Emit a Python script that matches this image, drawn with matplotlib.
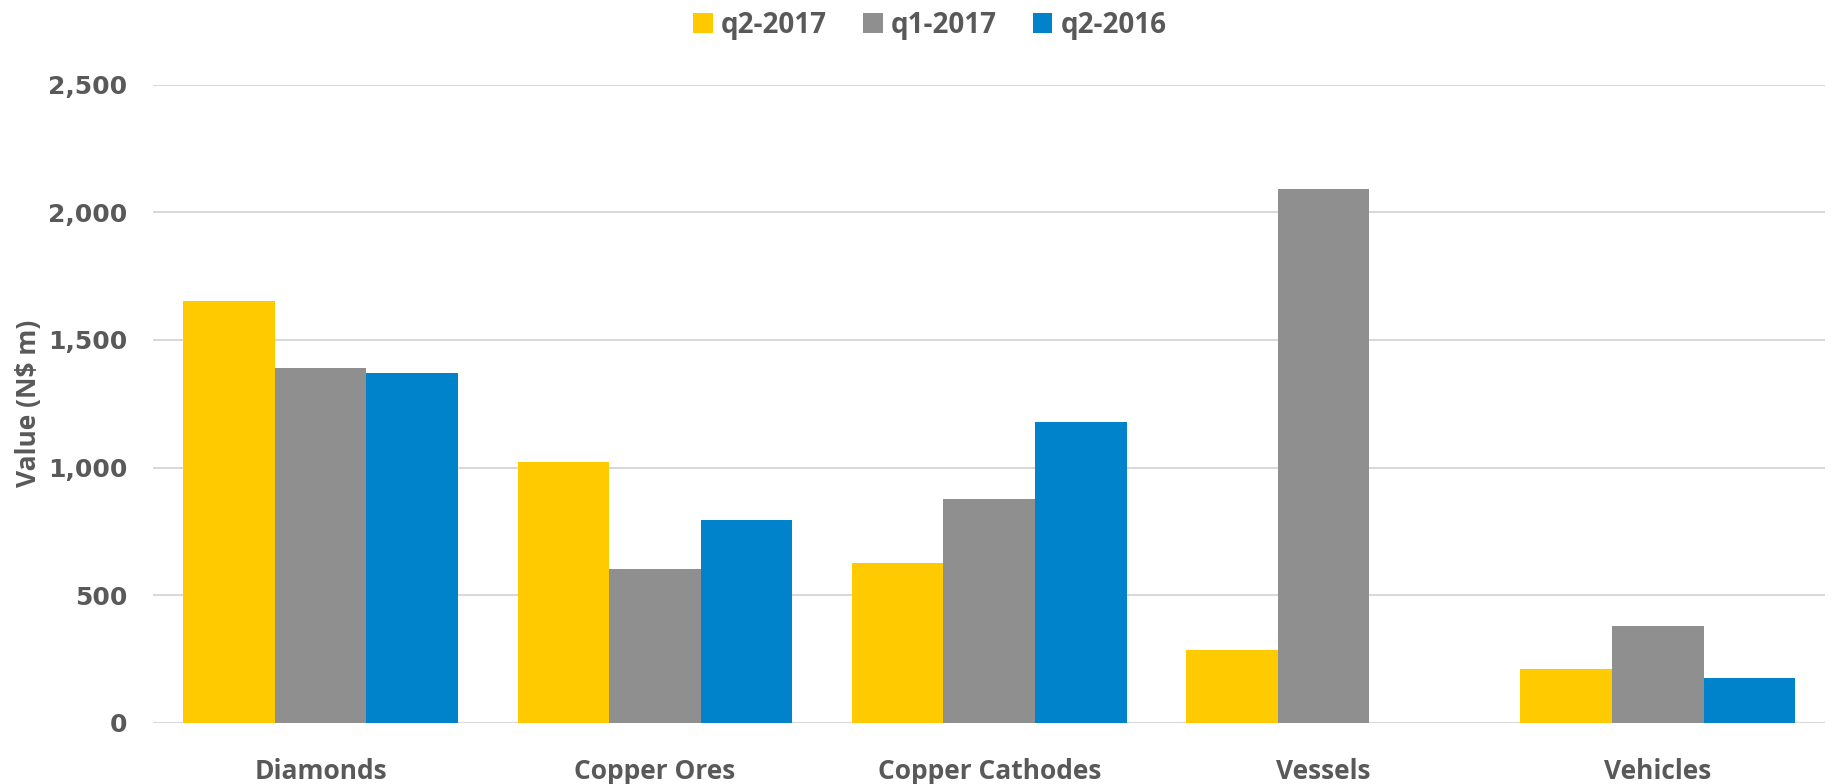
import numpy as np
import matplotlib.pyplot as plt
from matplotlib.ticker import FuncFormatter

plt.rcParams['font.family'] = ['Open Sans', 'DejaVu Sans']

categories = ['Diamonds', 'Copper Ores', 'Copper Cathodes', 'Vessels', 'Vehicles']
series_names = ['q2-2017', 'q1-2017', 'q2-2016']
q2_2017 = [1654, 1021, 628, 287, 209]
q1_2017 = [1391, 601, 878, 2091, 381]
q2_2016 = [1372, 795, 1178, 0, 176]
colors = ['#FFCA00', '#8F8F8F', '#0083CB']

text_color = '#595959'

fig = plt.figure(figsize=(18.49, 7.84), dpi=100)
ax = fig.add_axes([0.083, 0.078, 0.904, 0.814])

x = np.arange(len(categories))
width = 0.274
for i, (vals, name) in enumerate(zip([q2_2017, q1_2017, q2_2016], series_names)):
    ax.bar(x + (i - 1) * width, vals, width, color=colors[i], label=name, zorder=3)

ax.set_xlim(-0.5, len(categories) - 0.5)
ax.set_ylim(0, 2500)
ax.set_yticks(range(0, 2501, 500))
ax.yaxis.set_major_formatter(FuncFormatter(lambda v, p: f'{int(v):,}'))
ax.set_xticks(x)
ax.set_xticklabels(categories)

ax.grid(axis='y', color='#D9D9D9', linewidth=1.5, zorder=0)
for s in ax.spines.values():
    s.set_visible(False)
ax.tick_params(length=0, labelcolor=text_color)
ax.tick_params(axis='x', pad=25)
ax.tick_params(axis='y', pad=19)
for lbl in ax.get_xticklabels():
    lbl.set_fontweight('bold')
    lbl.set_fontsize(19)
for lbl in ax.get_yticklabels():
    lbl.set_fontweight('bold')
    lbl.set_fontsize(18)
    lbl.set_family('DejaVu Sans')

ax.set_ylabel('Value (N\\$ m)', fontsize=19, fontweight='bold', color=text_color, labelpad=4)

fig.legend(loc='upper center', bbox_to_anchor=(0.503, 1.018), ncol=3, frameon=False,
           prop={'size': 20, 'weight': 'bold'}, handlelength=0.7, handleheight=0.7,
           handletextpad=0.3, columnspacing=1.3, labelcolor=text_color)

fig.savefig('out.png', dpi=100)
